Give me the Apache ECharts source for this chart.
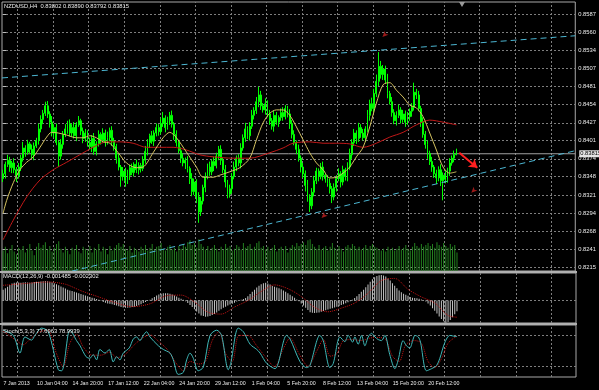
<!DOCTYPE html>
<html><head><meta charset="utf-8">
<script src="https://cdn.jsdelivr.net/npm/echarts@6/dist/echarts.min.js"></script>
<style>html,body{margin:0;padding:0;background:#000}#c{width:599px;height:390px}</style>
</head><body><div id="c"></div>
<script>
// ---------- DATA (prices in pips: 8352 = 0.8352) ----------
const firstOpen = 8345;
const closes = [
8352,8366,8372,8361,8368,8358,8349,8362,8375,8390,
8384,8396,8388,8380,8393,8401,8418,8432,8441,8452,
8440,8428,8412,8420,8398,8378,8395,8410,8418,8426,
8412,8420,8408,8424,8430,8415,8404,8412,8398,8392,
8404,8385,8396,8410,8402,8412,8398,8405,8416,8400,
8392,8375,8362,8348,8356,8342,8350,8361,8354,8366,
8358,8364,8360,8372,8385,8398,8408,8400,8412,8420,
8414,8426,8434,8420,8430,8438,8425,8410,8398,8386,
8375,8368,8372,8360,8345,8326,8340,8318,8296,8312,
8332,8348,8362,8355,8370,8364,8378,8388,8372,8358,
8340,8322,8330,8348,8362,8375,8368,8390,8405,8418,
8408,8422,8438,8445,8458,8468,8452,8446,8455,8440,
8430,8422,8438,8428,8435,8442,8436,8448,8440,8426,
8410,8398,8388,8375,8362,8352,8335,8318,8305,8325,
8342,8356,8348,8362,8350,8345,8338,8330,8318,8332,
8345,8352,8340,8358,8348,8362,8380,8398,8412,8404,
8420,8412,8405,8418,8438,8455,8448,8470,8488,8510,
8498,8506,8490,8470,8458,8442,8430,8438,8446,8432,
8440,8428,8436,8444,8450,8472,8468,8448,8428,8410,
8395,8382,8370,8362,8352,8346,8358,8342,8350,8344,
8356,8368,8375,8380.2,8381.5];
const upWick = [
6,4,8,5,3,7,4,6,5,9, 4,6,3,7,5,4,8,6,5,6, 7,4,9,5,6,3,8,5,7,4, 6,5,8,4,7,3,5,6,4,7,
5,8,4,6,3,7,5,9,4,6, 5,4,7,3,6,5,8,4,6,3, 7,5,4,6,8,5,3,7,4,6, 5,8,9,4,6,5,7,3,6,4,
5,7,4,6,3,8,5,4,7,6, 4,6,5,8,3,7,5,5,6,4, 7,3,6,5,8,4,6,7,5,9, 4,6,8,5,7,12,6,4,8,5,
6,4,7,5,3,6,8,5,4,7, 5,6,3,7,4,6,5,8,4,6, 7,5,4,6,8,3,5,7,4,6, 5,8,4,6,3,7,9,5,6,4,
7,5,6,4,8,6,9,7,10,21, 8,6,5,9,4,7,5,6,8,4, 6,5,7,4,6,14,5,6,4,7, 5,6,4,7,3,6,5,8,4,6,
5,7,4,6,7.5];
const dnWick = [
5,7,4,6,8,5,9,4,6,5, 7,4,6,5,8,3,6,5,7,4, 6,8,5,7,4,16,5,6,4,7, 5,6,4,8,3,6,7,5,6,4,
8,5,6,4,7,5,6,3,5,7, 6,8,5,15,6,9,5,7,4,6, 5,7,6,4,5,6,8,4,7,5, 6,4,5,7,3,6,5,8,6,4,
7,5,9,6,8,7,5,9,16,6, 5,7,4,6,5,8,4,6,7,5, 8,6,5,7,4,6,5,8,4,6, 5,7,4,6,5,8,6,4,7,5,
6,5,8,4,7,5,6,4,5,8, 6,4,7,5,8,6,9,7,9,5, 6,5,7,4,8,6,5,7,9,5, 6,4,8,5,6,7,4,6,5,8,
5,7,4,6,5,8,4,6,5,7, 6,8,5,7,4,6,5,7,4,6, 5,7,4,6,8,5,6,4,7,5, 6,8,5,7,6,9,5,8,29,6,
5,7,4,6,1];
const volumes = [
2200,2600,1900,2400,2800,2100,1800,2500,2300,2700, 2000,2400,2900,2200,1700,2600,3000,2500,2800,3100,
2300,2700,2100,2500,2900,3200,2400,2000,2600,2200, 1800,2500,2300,2800,2100,1900,2600,2400,2200,2700,
2000,2500,2300,2900,2100,2600,2400,1800,2700,2200, 2500,2800,3000,2600,2900,2400,2200,2700,2000,2500,
2300,2100,2600,2400,2800,2200,2500,2900,2300,2600, 2700,3000,2400,2200,2600,2800,2300,2500,2100,2700,
2400,2900,2600,3100,3300,2800,3000,2500,3400,2900, 2600,2300,2700,2200,2500,2800,2400,2100,2600,2300,
2900,2500,2700,2200,2400,2800,2600,2300,3000,2500, 2700,2900,2400,2600,3000,3200,2500,2700,2300,2600,
2200,2500,2800,2100,2400,2600,2300,2700,2000,2500, 2800,2600,3000,2700,2900,3100,2800,3300,3400,2900,
2600,2400,2800,2300,2500,2700,2200,2600,3000,2500, 2300,2700,2400,2100,2600,2800,2500,2900,2700,2400,
2600,2300,2500,2800,2400,2700,2900,2600,2500,2300, 2200,2400,2100,2600,2300,2500,2200,2400,2700,2300,
2500,2800,2400,2200,2600,3000,2700,2500,2900,2600, 2800,3000,2700,2900,2500,3100,2800,2600,3000,2700,
2500,2900,2600,2800,2000];
// MACD main, units of 0.00001
const macdMain = [
150,170,190,215,235,245,250,248,245,250, 252,248,245,250,255,258,260,262,265,268,
265,258,250,240,225,210,195,180,165,150, 140,130,120,110,100,90,80,70,60,50,
40,30,20,10,-5,-20,-30,-40,-45,-50, -60,-70,-80,-90,-95,-100,-98,-95,-90,-85,
-75,-65,-50,-35,-20,-5,10,30,50,70, 85,95,100,102,100,95,85,70,55,40,
25,10,-10,-35,-60,-90,-120,-150,-180,-205, -215,-225,-222,-215,-200,-185,-165,-140,-120,-100,
-85,-70,-55,-45,-30,-15,0,10,20,35, 60,90,120,150,180,205,225,240,245,235,
220,200,190,180,170,155,140,120,100,80, 60,40,15,-10,-40,-70,-100,-130,-160,-170,
-172,-170,-165,-155,-145,-135,-125,-115,-105,-95, -85,-75,-62,-50,-38,-25,-10,10,35,60,
90,120,150,185,220,260,295,320,340,350, 352,345,330,305,275,240,205,170,140,115,
95,80,65,50,40,35,30,25,15,5, -15,-40,-70,-105,-140,-180,-220,-255,-285,-305,
-295,-270,-230,-190,-148.5];
const macdSignal = [[0,210],[10,235],[20,255],[28,225],[35,135],[42,60],[50,-25],[58,-85],[66,-45],[74,70],[80,75],[86,-20],[92,-160],[98,-187],[104,-90],[110,0],[116,125],[122,216],[128,164],[134,56],[140,-93],[146,-155],[152,-105],[158,-35],[164,100],[170,275],[176,305],[182,155],[188,50],[194,-33],[200,-206],[204,-230]];
// moving averages read as [bar, pips]
const maFast = [[0,8294],[1.6,8313],[4.6,8339],[7.6,8358],[10.6,8369],[13.6,8377],[16.6,8391],[19.6,8406],[21.8,8413],[24.8,8412],[28.6,8409],[33,8405],[36,8405],[39,8408],[42,8405],[45,8399],[48,8397],[51.8,8383],[55.5,8368],[60,8361],[63,8362],[67.5,8383],[72,8405],[75,8413],[78,8405],[82.5,8384],[87,8362],[90,8347],[94.5,8347],[97.5,8350],[102,8355],[106.5,8361],[111,8375],[114,8402],[117,8427],[120,8441],[123,8446],[126,8446],[129,8438],[132,8421],[135,8402],[138,8383],[141,8368],[144,8358],[147,8346],[150,8347],[153,8353],[156,8362],[159,8377],[162,8391],[165,8421],[168,8456],[171,8483],[174,8486],[177,8475],[180,8465],[183,8453],[186,8449],[189,8436],[192,8412],[195,8387],[198,8362],[201,8353],[204,8355]];
const maSlow = [[0,8255],[4.6,8284],[10.6,8318],[16.6,8343],[22.6,8358],[28.6,8369],[34.5,8380],[40.5,8391],[46.5,8399],[52.5,8399],[58.5,8397],[64.5,8391],[70.5,8391],[76.5,8391],[82.5,8387],[88.5,8380],[94.5,8377],[103.5,8375],[111,8375],[120,8383],[126,8390],[130.5,8397],[138,8399],[144,8397],[150,8397],[156,8396],[162,8391],[168,8397],[174,8406],[180,8413],[186,8424],[192,8431],[198,8428],[204,8424]];
const stochK = [[0,90],[4.6,80],[7.6,46],[9.8,77],[12.8,71],[14.3,80],[17.3,94],[20.3,87],[24.8,14],[26.3,12],[29.3,84],[30,90],[33,70],[34.6,60],[37.3,39],[39,36],[40.5,43],[42,33],[43.5,53],[45.8,46],[47.7,53],[49.5,29],[51,39],[52.5,33],[54,46],[56.7,56],[58.5,73],[60,77],[61.5,70],[63,80],[64.5,87],[66,77],[69.8,60],[72,53],[75,46],[76.5,33],[78.7,5],[81,9],[82.5,33],[84,46],[85.5,36],[87.7,12],[90,19],[93,80],[96,90],[98.2,80],[101.2,14],[102.3,26],[105.7,94],[108,87],[111,63],[114,53],[115.5,46],[118.5,26],[122.2,16],[127.4,80],[129,73],[133.4,30],[136.4,18],[137.9,22],[142.4,80],[143.9,70],[146.9,18],[148.4,26],[151.4,77],[153.6,68],[155.1,80],[157.1,67],[158.1,77],[159.6,63],[161.1,80],[162.6,60],[164.1,77],[165.6,84],[167.1,77],[168.6,72],[170.1,70],[171.6,80],[173.8,43],[176.1,16],[177.6,33],[179.8,70],[181.3,60],[182.8,56],[184.3,73],[185.1,80],[186.6,77],[187.6,67],[190.3,12],[192.6,16],[194.8,22],[196.3,36],[198.6,67],[200.8,80],[203.1,78],[204,77.7]];
const stochD = [[0,88],[6,70],[9,62],[12,72],[16,86],[20,90],[24,45],[27,20],[30,65],[33,82],[36,58],[40,42],[44,42],[48,48],[51,37],[55,44],[59,62],[63,76],[66,81],[70,68],[74,52],[78,25],[81,12],[84,30],[88,25],[91,30],[94,70],[97,87],[100,45],[103,30],[106,80],[110,80],[114,60],[118,38],[122,20],[126,55],[129,75],[133,45],[137,21],[141,50],[144,72],[147,40],[150,45],[153,70],[157,72],[161,70],[165,75],[169,76],[172,72],[175,40],[178,30],[181,62],[185,70],[188,65],[191,30],[194,18],[197,35],[200,65],[204,79]];
const timeLabels = ["7 Jan 2013","10 Jan 04:00","14 Jan 20:00","17 Jan 12:00","22 Jan 04:00","24 Jan 20:00","29 Jan 12:00","1 Feb 04:00","5 Feb 20:00","8 Feb 12:00","13 Feb 04:00","15 Feb 20:00","20 Feb 12:00"];
const priceTicks = [0.8587,0.8560,0.8534,0.8507,0.8481,0.8454,0.8427,0.8401,0.8374,0.8348,0.8321,0.8294,0.8268,0.8241,0.8215];
const lastPrice = 0.83815;
const macdTicks = [0.00379, 0, -0.0031];
const macdTickText = ["0.00379","0.00","-0.0031"];
const stochTicks = [100, 80, 20, 0];
// drawn objects, [bar, price]
const trendUpper = [[-0.5,0.8493],[257.5,0.8555]];
const trendLower = [[31,0.8209],[257.5,0.8386]];
const signalArrow = [[205.3,0.8383],[213.4,0.8361]];
const redMarks = [[170.7,0.8553],[143.3,0.8287],[210.7,0.8324]];
const headerText = "NZDUSD,H4  0.83802 0.83890 0.83792 0.83815";
const macdText = "MACD(12,26,9) -0.001485 -0.002302";
const stochText = "Stoch(5,3,3) 77.6963 78.9939";

// ---------- BUILD ----------
const N = 258;
const FONT = 'Liberation Sans';
const FS = 5.8;
const FST = 5.3;
const TXT = '#ececec';
const GRIDC = '#7e7e7e';
const P = v => v / 10000;
const Y0 = [0.820912, 0.860464], Y2 = [-0.0031, 0.0038], Y3 = [0, 100];

const candle = [];
let prev = firstOpen;
for (let i = 0; i < closes.length; i++) {
  const o = prev, c = closes[i];
  const hi = Math.max(o, c) + upWick[i];
  const lo = Math.min(o, c) - dnWick[i];
  candle.push([P(o), P(c), P(lo), P(hi)]);
  prev = c;
}
const cats = [];
for (let i = 0; i < N; i++) {
  const k = (i - 7) / 16;
  cats.push(Number.isInteger(k) && k >= 0 && k < timeLabels.length ? timeLabels[k] : '');
}
const vGridX = [];
for (let x = 6.5; x < N; x += 16) vGridX.push(x);
const vLines = (ext) => vGridX.map(x => ({coords: [[x, ext[0]], [x, ext[1]]]}));

const lblStyle = {color: TXT, fontSize: FS, fontFamily: FONT};
const gridLS = {type: [2, 2], color: GRIDC, width: 1, opacity: 1};

const gridLinesSeries = (xi, yi, data) => ({type: 'lines', coordinateSystem: 'cartesian2d', xAxisIndex: xi, yAxisIndex: yi,
  data: data, lineStyle: gridLS, silent: true, z: 0, animation: false});

const chart = echarts.init(document.getElementById('c'), null, {renderer: 'canvas', width: 599, height: 390});
chart.setOption({
  backgroundColor: '#000',
  animation: false,
  grid: [
    {left: 2, top: 2, width: 574, height: 269, show: true, borderColor: '#a8a8a8', borderWidth: 1},
    {left: 2, top: 231, width: 574, height: 40, show: false},
    {left: 2, top: 273, width: 574, height: 50, show: true, borderColor: '#a8a8a8', borderWidth: 1},
    {left: 2, top: 325, width: 574, height: 52, show: true, borderColor: '#a8a8a8', borderWidth: 1}
  ],
  xAxis: [
    {type: 'category', gridIndex: 0, data: cats, show: false},
    {type: 'value', gridIndex: 0, min: -0.5, max: N - 0.5, show: false},
    {type: 'category', gridIndex: 1, data: cats, show: false},
    {type: 'category', gridIndex: 2, data: cats, show: false},
    {type: 'category', gridIndex: 3, data: cats, axisLine: {show: false}, axisTick: {show: false}, splitLine: {show: false},
      axisLabel: {interval: (i) => cats[i] !== '', margin: 4, color: TXT, fontSize: FST, fontFamily: FONT, padding: [0, 4, 0, 0]}},
    {type: 'value', gridIndex: 3, min: -0.5, max: N - 0.5, show: false},
    {type: 'value', gridIndex: 2, min: -0.5, max: N - 0.5, show: false}
  ],
  yAxis: [
    {type: 'value', gridIndex: 0, min: Y0[0], max: Y0[1], position: 'right',
      axisLine: {show: false}, splitLine: {show: false},
      axisTick: {show: true, customValues: priceTicks, length: 3, lineStyle: {color: '#bdbdbd'}},
      axisLabel: Object.assign({customValues: priceTicks, formatter: v => v.toFixed(4), margin: 3}, lblStyle)},
    {type: 'value', gridIndex: 1, min: 0, max: 4300, show: false},
    {type: 'value', gridIndex: 2, min: Y2[0], max: Y2[1], show: false},
    {type: 'value', gridIndex: 3, min: Y3[0], max: Y3[1], show: false}
  ],
  graphic: [
    {type: 'rect', shape: {x: 0, y: 271, width: 577, height: 2}, style: {fill: '#b0b0b0'}, z: 100},
    {type: 'rect', shape: {x: 0, y: 323, width: 577, height: 2}, style: {fill: '#b0b0b0'}, z: 100},
    {type: 'polygon', shape: {points: [[459, 2], [465, 2], [462, 7]]}, style: {fill: '#9a9a9a'}, z: 100},
    {type: 'text', left: 4, top: 3, style: {text: headerText, fill: TXT, font: FS + 'px ' + FONT}, z: 100},
    {type: 'text', left: 3, top: 273.5, style: {text: macdText, fill: TXT, font: FS + 'px ' + FONT}, z: 100},
    {type: 'text', left: 3, top: 328.5, style: {text: stochText, fill: TXT, font: FS + 'px ' + FONT}, z: 100}
  ],
  series: [
    gridLinesSeries(1, 0, priceTicks.map(v => ({coords: [[-0.5, v], [N - 0.5, v]]})).concat(vLines(Y0))),
    gridLinesSeries(6, 2, [{coords: [[-0.5, 0], [N - 0.5, 0]]}].concat(vLines(Y2))),
    gridLinesSeries(5, 3, [{coords: [[-0.5, 80], [N - 0.5, 80]]}, {coords: [[-0.5, 20], [N - 0.5, 20]]}].concat(vLines(Y3))),
    {type: 'bar', name: 'volume', xAxisIndex: 2, yAxisIndex: 1, data: volumes, barWidth: 1,
      itemStyle: {color: '#23821f'}, z: 1, silent: true},
    {type: 'candlestick', name: 'NZDUSD', xAxisIndex: 0, yAxisIndex: 0, data: candle, barWidth: 1.4,
      itemStyle: {color: '#00ff00', color0: '#00ff00', borderColor: '#00ff00', borderColor0: '#00ff00', borderWidth: 1},
      z: 3, silent: true},
    {type: 'line', name: 'bid', xAxisIndex: 1, yAxisIndex: 0, data: [[-0.5, lastPrice], [N - 0.5, lastPrice]],
      showSymbol: false, lineStyle: {color: '#a0a0a0', width: 1}, z: 2, silent: true,
      endLabel: {show: true, formatter: '0.83815', color: '#000', backgroundColor: '#e4e4e4', fontSize: FS, fontFamily: FONT,
        padding: [1, 2, 0, 1], distance: 4}},
    {type: 'line', name: 'MA slow', xAxisIndex: 1, yAxisIndex: 0, data: maSlow.map(d => [d[0], P(d[1])]),
      showSymbol: false, smooth: 0.3, lineStyle: {color: '#c21818', width: 1}, z: 4, silent: true},
    {type: 'line', name: 'MA fast', xAxisIndex: 1, yAxisIndex: 0, data: maFast.map(d => [d[0], P(d[1])]),
      showSymbol: false, smooth: 0.3, lineStyle: {color: '#d6c462', width: 1}, z: 5, silent: true},
    {type: 'line', name: 'trend upper', xAxisIndex: 1, yAxisIndex: 0, data: trendUpper,
      showSymbol: false, lineStyle: {color: '#4cb6d2', width: 1, type: [6, 4]}, z: 6, silent: true},
    {type: 'line', name: 'trend lower', xAxisIndex: 1, yAxisIndex: 0, data: trendLower,
      showSymbol: false, lineStyle: {color: '#4cb6d2', width: 1, type: [6, 4]}, z: 6, silent: true,
      markLine: {silent: true, symbol: ['none', 'arrow'], symbolSize: 8,
        lineStyle: {color: '#ff2020', width: 2, type: 'solid'}, label: {show: false},
        data: [[{coord: signalArrow[0]}, {coord: signalArrow[1]}]]}
    },
    {type: 'scatter', name: 'marks', xAxisIndex: 1, yAxisIndex: 0, data: redMarks,
      symbol: 'arrow', symbolSize: [4, 6], symbolRotate: 135, itemStyle: {color: '#c42020'}, z: 7, silent: true},
    {type: 'bar', name: 'MACD', xAxisIndex: 3, yAxisIndex: 2, data: macdMain.map(v => v / 100000), barWidth: 1,
      itemStyle: {color: '#c4c4c4'}, silent: true,
      markLine: {silent: true, symbol: ['none', 'none'], lineStyle: {opacity: 0},
        label: Object.assign({show: true, position: 'end', distance: 4}, lblStyle),
        data: [
          {yAxis: macdTicks[0], label: {formatter: macdTickText[0], padding: [5, 0, 0, 0]}},
          {yAxis: macdTicks[1], label: {formatter: macdTickText[1]}},
          {yAxis: macdTicks[2], label: {formatter: macdTickText[2], padding: [0, 0, 4, 0]}}
        ]}
    },
    {type: 'line', name: 'MACD signal', xAxisIndex: 6, yAxisIndex: 2, data: macdSignal.map(d => [d[0], d[1] / 100000]),
      showSymbol: false, smooth: 0.3, lineStyle: {color: '#c01414', width: 1, type: 'dotted'}, z: 4, silent: true},
    {type: 'line', name: 'Stoch %D', xAxisIndex: 5, yAxisIndex: 3, data: stochD,
      showSymbol: false, smooth: 0.3, lineStyle: {color: '#c01414', width: 1, type: 'dotted'}, z: 3, silent: true},
    {type: 'line', name: 'Stoch %K', xAxisIndex: 5, yAxisIndex: 3, data: stochK,
      showSymbol: false, smooth: 0.3, lineStyle: {color: '#3fb8b8', width: 1}, z: 4, silent: true,
      markLine: {silent: true, symbol: ['none', 'none'], lineStyle: {opacity: 0},
        label: Object.assign({show: true, position: 'end', distance: 4}, lblStyle),
        data: [
          {yAxis: stochTicks[0], label: {formatter: String(stochTicks[0]), padding: [7, 0, 0, 0]}},
          {yAxis: stochTicks[1], label: {formatter: String(stochTicks[1])}},
          {yAxis: stochTicks[2], label: {formatter: String(stochTicks[2])}},
          {yAxis: stochTicks[3], label: {formatter: String(stochTicks[3]), padding: [0, 0, 7, 0]}}
        ]}
    }
  ]
});
</script>
</body></html>
